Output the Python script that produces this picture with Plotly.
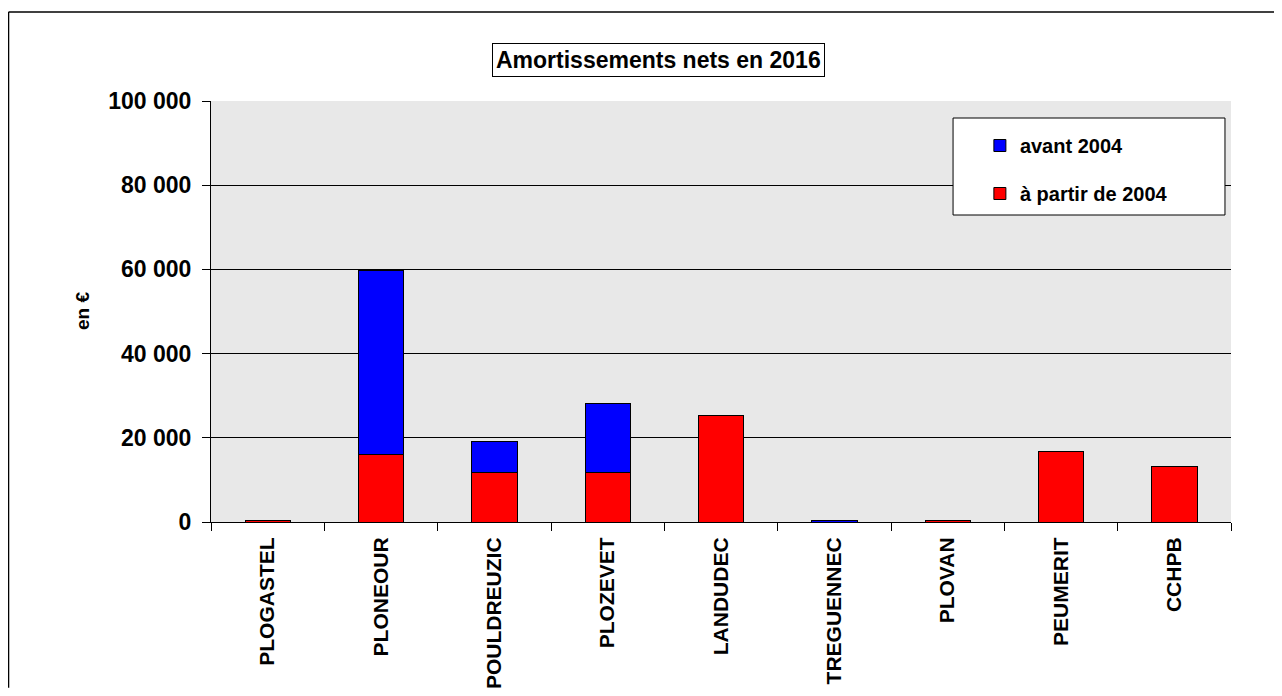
"""Stacked bar chart: Amortissements nets en 2016, per commune."""

import plotly.graph_objects as go

# Data (in euros)
communes = [
    "PLOGASTEL", "PLONEOUR", "POULDREUZIC", "PLOZEVET", "LANDUDEC",
    "TREGUENNEC", "PLOVAN", "PEUMERIT", "CCHPB",
]
a_partir_2004 = [400, 16000, 11800, 11700, 25200, 0, 400, 16700, 13300]
avant_2004 = [0, 43800, 7400, 16500, 0, 400, 0, 0, 0]
y_ticks = [0, 20000, 40000, 60000, 80000, 100000]

RED = "#ff0000"
BLUE = "#0000ff"
FONT = "Liberation Sans"

fig = go.Figure()
fig.add_trace(
    go.Bar(
        x=communes,
        y=a_partir_2004,
        name="à partir de 2004",
        legendgroup="apres",
        legendrank=2,
        marker={"color": RED, "line": {"color": "#000000", "width": 1}},
    )
)
fig.add_trace(
    go.Bar(
        x=communes,
        y=avant_2004,
        name="avant 2004",
        legendgroup="avant",
        legendrank=1,
        marker={"color": BLUE, "line": {"color": "#000000", "width": 1}},
    )
)

# the page has an 8px body margin, so the figure is a bit smaller than the window
fig.update_layout(
    width=1266,
    height=680,
    barmode="stack",
    bargap=0.6,
    separators=", ",
    paper_bgcolor="#ffffff",
    plot_bgcolor="#e8e8e8",
    margin={"l": 203, "r": 43, "t": 93, "b": 166, "autoexpand": False},
    font={"family": FONT, "color": "#000000", "size": 14},
    legend={
        "x": 0.7538,
        "y": 0.9406,
        "xanchor": "left",
        "yanchor": "top",
        "bgcolor": "rgba(0,0,0,0)",
        "borderwidth": 0,
        "traceorder": "grouped",
        "tracegroupgap": 19,
        "font": {"size": 20, "weight": "bold"},
        "itemwidth": 30,
    },
    annotations=[
        {
            "text": "Amortissements nets en 2016",
            "x": 0.4387,
            "y": 1.0974,
            "xref": "paper",
            "yref": "paper",
            "xanchor": "center",
            "yanchor": "middle",
            "showarrow": False,
            "font": {"size": 23, "weight": "bold"},
            "bordercolor": "#000000",
            "borderwidth": 1,
            "borderpad": 3,
            "bgcolor": "#ffffff",
        },
        {
            "text": "en €",
            "x": -0.1265,
            "y": 0.501,
            "xref": "paper",
            "yref": "paper",
            "xanchor": "center",
            "yanchor": "middle",
            "textangle": -90,
            "showarrow": False,
            "font": {"size": 19, "weight": "bold"},
        },
    ],
    shapes=[
        # legend box
        {
            "type": "rect",
            "xref": "paper",
            "yref": "paper",
            "x0": 0.7275,
            "x1": 0.9941,
            "y0": 0.7292,
            "y1": 0.9596,
            "fillcolor": "#ffffff",
            "line": {"color": "#000000", "width": 1},
            "layer": "above",
        },
        # outer frame (only top and left edges are visible)
        {
            "type": "line",
            "xref": "paper",
            "yref": "paper",
            "x0": -0.1985,
            "x1": -0.1985,
            "y0": 1.2114,
            "y1": -0.394,
            "line": {"color": "#000000", "width": 1.5},
        },
        {
            "type": "line",
            "xref": "paper",
            "yref": "paper",
            "x0": -0.1985,
            "x1": 1.0422,
            "y0": 1.2114,
            "y1": 1.2114,
            "line": {"color": "#000000", "width": 1.5},
        },
    ],
)

fig.update_yaxes(
    range=[0, 100000],
    tickvals=y_ticks,
    tickformat=",d",
    showgrid=True,
    gridcolor="#000000",
    gridwidth=1,
    zeroline=False,
    showline=True,
    linecolor="#000000",
    ticks="outside",
    ticklen=8,
    tickcolor="#000000",
    ticklabelstandoff=6,
    tickfont={"size": 23, "weight": "bold"},
    automargin=False,
)
fig.update_xaxes(
    tickangle=-90,
    showline=True,
    linecolor="#000000",
    ticks="outside",
    tickson="boundaries",
    ticklen=8,
    tickcolor="#000000",
    ticklabelstandoff=6,
    tickfont={"size": 21, "weight": "bold"},
    automargin=False,
)

fig.write_html("out.html")
